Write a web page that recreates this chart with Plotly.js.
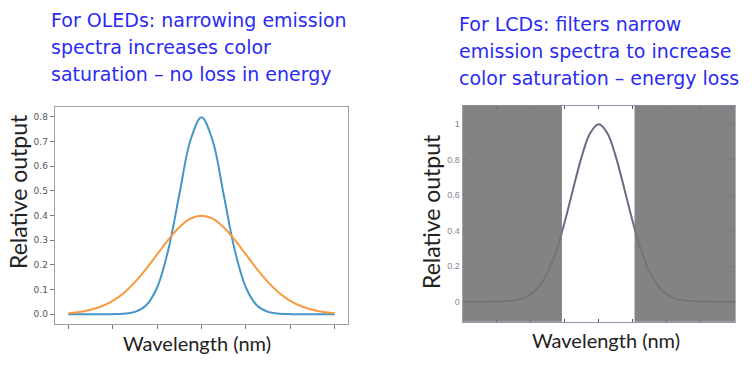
<!DOCTYPE html>
<html>
<head>
<meta charset="utf-8">
<script src="https://cdn.plot.ly/plotly-3.0.1.min.js"></script>
<style>html,body{margin:0;padding:0;background:#fff;}#chart{width:752px;height:371px;}</style>
</head>
<body>
<div id="chart"></div>
<script>
// ---- Left panel (OLED) data ----
const oledX = [-3,-2.75,-2.5,-2.25,-2,-1.75,-1.5,-1.25,-1,-0.75,-0.5,-0.25,0,0.25,0.5,0.75,1,1.25,1.5,1.75,2,2.25,2.5,2.75,3];
const oledNarrow = [0,0,0,0,0,0.002,0.009,0.035,0.108,0.259,0.484,0.704,0.798,0.704,0.484,0.259,0.108,0.035,0.009,0.002,0,0,0,0,0];
const oledWide = [0.004,0.009,0.018,0.032,0.054,0.086,0.130,0.183,0.242,0.301,0.352,0.387,0.399,0.387,0.352,0.301,0.242,0.183,0.130,0.086,0.054,0.032,0.018,0.009,0.004];
const oledYTicks = [0,0.1,0.2,0.3,0.4,0.5,0.6,0.7,0.8];
const oledXTicks = [-3,-2,-1,0,1,2,3];

// ---- Right panel (LCD) data ----
const lcdX = [-4,-3.75,-3.5,-3.25,-3,-2.75,-2.5,-2.25,-2,-1.75,-1.5,-1.25,-1,-0.75,-0.5,-0.25,0,0.25,0.5,0.75,1,1.25,1.5,1.75,2,2.25,2.5,2.75,3,3.25,3.5,3.75,4];
const lcdY = [0,0,0,0,0.001,0.002,0.007,0.017,0.041,0.086,0.165,0.286,0.449,0.637,0.818,0.951,1,0.951,0.818,0.637,0.449,0.286,0.165,0.086,0.041,0.017,0.007,0.002,0.001,0,0,0,0];
const lcdFilterBand = [-1.08, 1.05];
const lcdYTicks = [0,0.2,0.4,0.6,0.8,1];
const lcdYTickText = ["0","0.2","0.4","0.6","0.8","1"];
const lcdXTicks = [-4,-3,-2,-1,0,1,2,3,4];

// ---- Texts ----
const leftTitle = ["For OLEDs: narrowing emission","spectra increases color","saturation \u2013 no loss in energy"];
const rightTitle = ["For LCDs: filters narrow","emission spectra to increase","color saturation \u2013 energy loss"];
const yLabel = "Relative output";
const xLabel = "Wavelength (nm)";

const W = 752, H = 371;
const px = v => v / W;
const py = v => 1 - v / H;

const traces = [
  {x: oledX, y: oledNarrow, xaxis: 'x', yaxis: 'y', mode: 'lines', line: {color: '#4796c8', width: 2, shape: 'spline', smoothing: 1}, hoverinfo: 'skip'},
  {x: oledX, y: oledWide, xaxis: 'x', yaxis: 'y', mode: 'lines', line: {color: '#f7993f', width: 2, shape: 'spline', smoothing: 1}, hoverinfo: 'skip'},
  {x: lcdX, y: lcdY, xaxis: 'x2', yaxis: 'y2', mode: 'lines', line: {color: '#6b6b82', width: 2, shape: 'spline', smoothing: 1}, hoverinfo: 'skip'}
];

const titleFont = {family: 'DejaVu Sans, Verdana, sans-serif', size: 19, color: '#2b2bf2'};
const annotations = [];
const leftCenters = [20, 47, 74];
const rightCenters = [24, 51, 78];
leftTitle.forEach((t, i) => annotations.push({text: t, xref: 'paper', yref: 'paper', x: px(49), y: py(leftCenters[i]), xanchor: 'left', yanchor: 'middle', showarrow: false, font: titleFont}));
rightTitle.forEach((t, i) => annotations.push({text: t, xref: 'paper', yref: 'paper', x: px(457), y: py(rightCenters[i]), xanchor: 'left', yanchor: 'middle', showarrow: false, font: titleFont}));

const labFontY = {family: 'Lato, Carlito, sans-serif', size: 23, color: '#222'};
const labFontX = {family: 'Lato, Carlito, sans-serif', size: 20, color: '#222'};
annotations.push({text: yLabel, xref: 'paper', yref: 'paper', x: px(18), y: py(192), xanchor: 'center', yanchor: 'middle', textangle: -90, showarrow: false, font: labFontY});
annotations.push({text: yLabel, xref: 'paper', yref: 'paper', x: px(431), y: py(211), xanchor: 'center', yanchor: 'middle', textangle: -90, showarrow: false, font: labFontY});
annotations.push({text: xLabel, xref: 'paper', yref: 'paper', x: px(197), y: py(343), xanchor: 'center', yanchor: 'middle', showarrow: false, font: labFontX});
annotations.push({text: xLabel, xref: 'paper', yref: 'paper', x: px(606), y: py(340), xanchor: 'center', yanchor: 'middle', showarrow: false, font: labFontX});

const grayFill = 'rgba(118,118,118,0.9)';
const shapes = [
  {type: 'rect', xref: 'x2', yref: 'y2 domain', x0: lcdX[0], x1: lcdFilterBand[0], y0: 0, y1: 1, fillcolor: grayFill, line: {width: 0}, layer: 'above'},
  {type: 'rect', xref: 'x2', yref: 'y2 domain', x0: lcdFilterBand[1], x1: lcdX[lcdX.length - 1], y0: 0, y1: 1, fillcolor: grayFill, line: {width: 0}, layer: 'above'}
];

const layout = {
  width: W, height: H,
  margin: {l: 0, r: 0, t: 0, b: 0},
  paper_bgcolor: '#fff', plot_bgcolor: '#fff',
  showlegend: false,
  xaxis: {domain: [px(55), px(348)], range: [-3.3, 3.3], tickvals: oledXTicks, showticklabels: false, ticks: 'outside', ticklen: 4, tickcolor: '#777', showgrid: false, zeroline: false, showline: true, linecolor: '#a0a0a0', linewidth: 1.3, mirror: true, anchor: 'y'},
  yaxis: {domain: [py(324), py(107)], range: [-0.04, 0.84], tickvals: oledYTicks, tickformat: '.1f', ticks: 'outside', ticklen: 4, tickcolor: '#777', tickfont: {family: 'DejaVu Sans, sans-serif', size: 9, color: '#555'}, showgrid: false, zeroline: false, showline: true, linecolor: '#a0a0a0', linewidth: 1.3, mirror: true, anchor: 'x'},
  xaxis2: {domain: [px(462.5), px(735)], range: [-4, 4], tickvals: lcdXTicks, showticklabels: false, ticks: 'inside', ticklen: 3, tickcolor: '#555', showgrid: false, zeroline: false, showline: true, linecolor: '#8c96a8', linewidth: 1, mirror: 'ticks', anchor: 'y2'},
  yaxis2: {domain: [py(321.7), py(105.7)], range: [-0.113, 1.105], tickvals: lcdYTicks, ticktext: lcdYTickText, ticks: 'inside', ticklen: 3, tickcolor: '#555', tickfont: {family: 'Liberation Sans, Arial, sans-serif', size: 9, color: '#888'}, showgrid: false, zeroline: false, showline: true, linecolor: '#a8b2c2', linewidth: 1, mirror: 'ticks', anchor: 'x2'},
  annotations: annotations,
  shapes: shapes
};

Plotly.newPlot('chart', traces, layout, {staticPlot: true, displayModeBar: false});
</script>
</body>
</html>
